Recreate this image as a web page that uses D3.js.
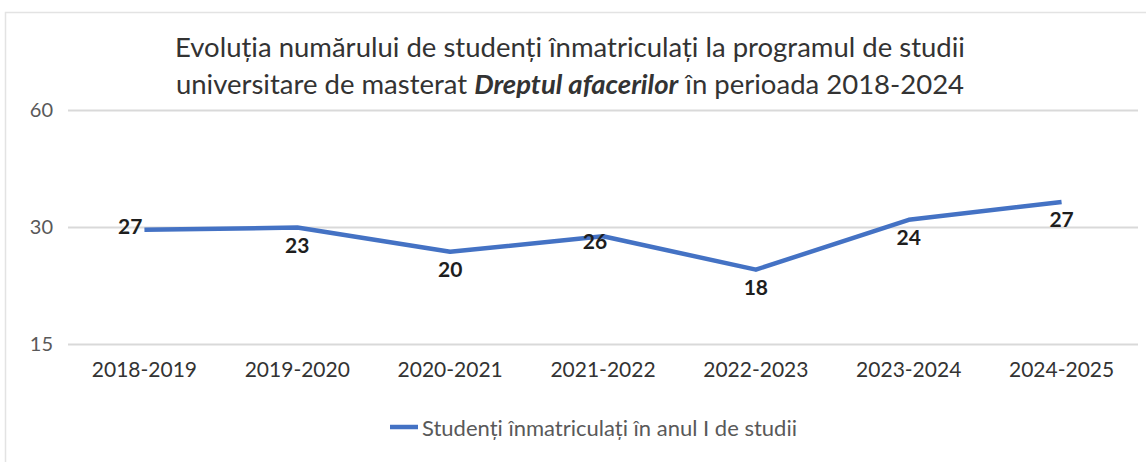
<!DOCTYPE html>
<html>
<head>
<meta charset="utf-8">
<script src="https://cdn.jsdelivr.net/npm/d3@7"></script>
<style>
  html, body { margin: 0; padding: 0; background: #ffffff; }
  svg { display: block; }
  text { font-family: Lato, "Open Sans", sans-serif; }
</style>
</head>
<body>
<svg id="chart" width="1146" height="462"></svg>
<script>
// ---- data ----
const categories = ["2018-2019", "2019-2020", "2020-2021", "2021-2022", "2022-2023", "2023-2024", "2024-2025"];
const lineValues = [29.5, 29.9, 25.9, 28.4, 23.3, 31.3, 34.8];
const dataLabels = ["27", "23", "20", "26", "18", "24", "27"];
const yTicks = [15, 30, 60];
const seriesName = "Studenți înmatriculați în anul I de studii";
const titleLine1 = "Evoluția numărului de studenți înmatriculați la programul de studii";
const titleLine2a = "universitare de masterat ";
const titleLine2b = "Dreptul afacerilor";
const titleLine2c = " în perioada 2018-2024";

// ---- drawing ----
const svg = d3.select("#chart");
const W = 1146, H = 462;
const plot = { left: 68, right: 1138, top: 110, bottom: 344 };

// chart area border
svg.append("rect").attr("x", 5.5).attr("y", 12.5).attr("width", W + 10).attr("height", H + 10)
  .attr("fill", "#ffffff").attr("stroke", "#e3e3e3").attr("stroke-width", 1.5);

const x = d3.scaleBand().domain(categories).range([plot.left, plot.right]);
const cx = c => x(c) + x.bandwidth() / 2;
const y = d3.scaleLog().domain([15, 60]).range([plot.bottom, plot.top]);

// title
const title = svg.append("g").attr("fill", "#333333").attr("font-size", 27.5).attr("text-anchor", "middle");
title.append("text").attr("x", 570).attr("y", 57).text(titleLine1);
const t2 = title.append("text").attr("x", 570).attr("y", 94);
t2.append("tspan").text(titleLine2a);
t2.append("tspan").attr("font-weight", "bold").attr("font-style", "italic").text(titleLine2b);
t2.append("tspan").text(titleLine2c);

// y axis with gridlines
const yAxis = d3.axisLeft(y).tickValues(yTicks).tickFormat(d3.format("d"))
  .tickSize(-(plot.right - plot.left)).tickPadding(15);
const gy = svg.append("g").attr("transform", `translate(${plot.left},0)`).call(yAxis);
gy.select(".domain").remove();
gy.selectAll(".tick line").attr("stroke", "#d9d9d9").attr("stroke-width", 2);
gy.selectAll(".tick text").attr("fill", "#595959").attr("font-size", 20).attr("font-family", "Lato, sans-serif");

// x axis labels
const xAxis = d3.axisBottom(x).tickSize(0).tickPadding(18);
const gx = svg.append("g").attr("transform", `translate(0,${plot.bottom})`).call(xAxis);
gx.select(".domain").remove();
gx.selectAll(".tick text").attr("fill", "#333333").attr("font-size", 21).attr("font-family", "Lato, sans-serif");

// line
const pts = categories.map((c, i) => ({ c, v: lineValues[i], label: dataLabels[i] }));
const line = d3.line().x(d => cx(d.c)).y(d => y(d.v));
svg.append("path").datum(pts).attr("d", line)
  .attr("fill", "none").attr("stroke", "#4472C4").attr("stroke-width", 4.5)
  .attr("stroke-linejoin", "round");

// data labels (placement: first left, others below; 2021-2022 centred on point)
const placement = ["left", "below", "below", "center", "below", "below", "below"];
svg.append("g").selectAll("text").data(pts).join("text")
  .attr("font-size", 21).attr("font-weight", "bold").attr("fill", "#1e1e1e")
  .attr("dominant-baseline", "central")
  .attr("text-anchor", (d, i) => placement[i] === "left" ? "end" : "middle")
  .attr("x", (d, i) => placement[i] === "left" ? cx(d.c) - 2 : placement[i] === "center" ? cx(d.c) - 8 : cx(d.c))
  .attr("y", (d, i) => placement[i] === "left" ? y(d.v) - 4 : placement[i] === "center" ? y(d.v) + 4 : y(d.v) + 17)
  .text(d => d.label);

// legend
const lg = svg.append("g").attr("transform", "translate(390,427)");
lg.append("line").attr("x1", 0).attr("x2", 28).attr("y1", 0).attr("y2", 0)
  .attr("stroke", "#4472C4").attr("stroke-width", 4.5);
lg.append("text").attr("x", 32).attr("y", 0).attr("dominant-baseline", "central")
  .attr("font-size", 22).attr("fill", "#595959").text(seriesName);
</script>
</body>
</html>
